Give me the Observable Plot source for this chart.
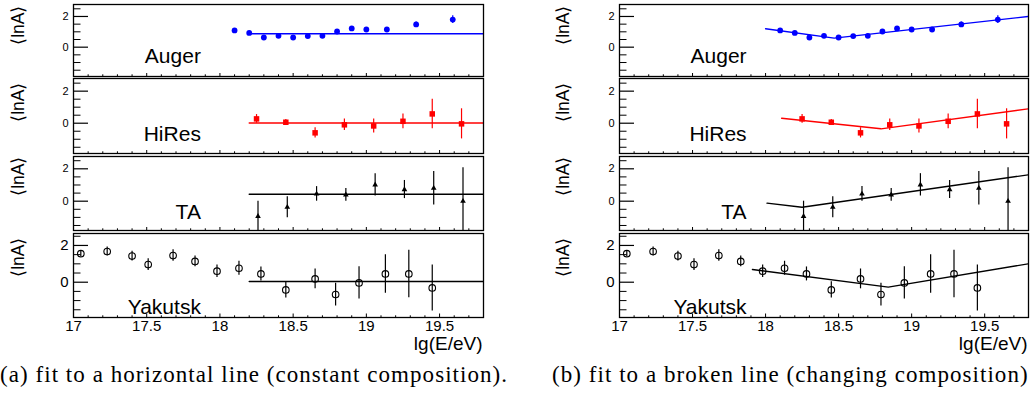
<!DOCTYPE html>
<html><head><meta charset="utf-8">
<script src="https://cdn.jsdelivr.net/npm/d3@7"></script>
<script src="https://cdn.jsdelivr.net/npm/@observablehq/plot@0.6"></script>
<style>
body{margin:0;background:#fff;}
#wrap{position:relative;width:1034px;height:394px;overflow:hidden;background:#fff;}
#wrap svg{position:absolute;overflow:visible;}
.cap{position:absolute;font-family:"Liberation Serif","Times New Roman",serif;font-size:23px;letter-spacing:1.05px;white-space:nowrap;line-height:23px;color:#000;}
</style></head><body>
<div id="wrap"></div>
<script>
// ---------- data ----------
const experiments = ["Auger", "HiRes", "TA", "Yakutsk"];
const colors = ["#0000ff", "#ff0000", "#000000", "#000000"];

const lgE_auger = [18.1, 18.2, 18.3, 18.4, 18.5, 18.6, 18.7, 18.8, 18.9, 19.0, 19.14, 19.34, 19.59];
const lnA_auger = [1.09, 0.93, 0.63, 0.74, 0.63, 0.72, 0.74, 1.02, 1.22, 1.15, 1.15, 1.48, 1.80];
const err_auger = [0.06, 0.06, 0.06, 0.06, 0.06, 0.07, 0.07, 0.08, 0.09, 0.09, 0.10, 0.16, 0.25];

const lgE_hires = [18.25, 18.45, 18.65, 18.85, 19.05, 19.25, 19.45, 19.65];
const lnA_hires = [0.27, 0.06, -0.60, -0.10, -0.17, 0.12, 0.58, -0.04];
const err_hires = [0.27, 0.17, 0.32, 0.36, 0.44, 0.46, 0.92, 0.94];

const lgE_ta = [18.26, 18.46, 18.66, 18.86, 19.06, 19.26, 19.46, 19.66];
const lnA_ta = [-0.93, -0.37, 0.45, 0.39, 1.01, 0.72, 0.80, 0.0];
const err_ta = [0.93, 0.65, 0.45, 0.40, 0.69, 0.56, 1.04, 2.06];

const lgE_yakutsk = [17.05, 17.23, 17.40, 17.51, 17.68, 17.83, 17.98, 18.13, 18.28, 18.45, 18.65, 18.79, 18.95, 19.13, 19.29, 19.45];
const lnA_yakutsk = [1.55, 1.67, 1.42, 0.96, 1.45, 1.13, 0.60, 0.76, 0.45, -0.42, 0.18, -0.67, -0.04, 0.45, 0.45, -0.31];
const err_yakutsk = [0.18, 0.25, 0.27, 0.32, 0.31, 0.29, 0.34, 0.38, 0.38, 0.44, 0.54, 0.62, 0.88, 1.05, 1.29, 1.25];

// (a) constant fit: level per experiment, drawn over this lgE range
const constFitRange = [18.2, 19.8];
const constFitLevels = [0.87, 0.01, 0.43, 0.04];

// (b) broken-line fit: start, break, end
const brokenX_auger = [18.0, 18.47, 19.8],   brokenY_auger = [1.2, 0.59, 2.0];
const brokenX_hires = [18.11, 18.79, 19.8],  brokenY_hires = [0.31, -0.35, 0.9];
const brokenX_ta = [18.01, 18.25, 19.8],     brokenY_ta = [-0.12, -0.37, 1.63];
const brokenX_yakutsk = [17.91, 18.84, 19.8], brokenY_yakutsk = [0.69, -0.27, 1.0];

const xMajorTicks = [17, 17.5, 18, 18.5, 19, 19.5];
const xTickLabels = ["17", "17.5", "18", "18.5", "19", "19.5"];
const yTickLabels = [0, 2];
const captions = ["(a) fit to a horizontal line (constant composition).", "(b) fit to a broken line (changing composition)"];

// ---------- build ----------
const series = [
  {x: lgE_auger, y: lnA_auger, e: err_auger, sym: "circle", r: 2.9},
  {x: lgE_hires, y: lnA_hires, e: err_hires, sym: "square", r: 3.1},
  {x: lgE_ta, y: lnA_ta, e: err_ta, sym: "triangle", r: 2.1},
  {x: lgE_yakutsk, y: lnA_yakutsk, e: err_yakutsk, sym: "circle", r: 3.3, open: true}
];
const broken = [
  [brokenX_auger, brokenY_auger], [brokenX_hires, brokenY_hires],
  [brokenX_ta, brokenY_ta], [brokenX_yakutsk, brokenY_yakutsk]
];

// layout (pixels)
const rows = [
  {top: 4, bot: 76, dom: [-1.91, 2.78], labY: -1.05, ylDy: 1},
  {top: 78, bot: 153, dom: [-1.89, 2.79], labY: -1.12, ylDy: 4},
  {top: 156, bot: 230, dom: [-1.81, 2.76], labY: -1.09, ylDy: 0},
  {top: 233, bot: 317, dom: [-1.92, 2.65], labY: -1.73, ylDy: 4}
];
const cols = [
  {offset: 0, left: 73, right: 483, ylabX: 18},
  {offset: 517, left: 619, right: 1028, ylabX: 563}
];

const xMinor = d3.range(171, 198).map(v => v / 10).filter(v => !xMajorTicks.some(m => Math.abs(m - v) < 1e-9));
const yMinor = [-1.5, -1, -0.5, 0.5, 1, 1.5, 2.5];

const wrap = document.getElementById("wrap");

cols.forEach((col, ci) => {
  rows.forEach((row, ri) => {
    const s = series[ri];
    const color = colors[ri];
    const isBottom = ri === 3;
    const H = row.bot - row.top;
    const FW = col.right - col.left;
    const W = 517;
    const mT = 1, mB = isBottom ? 40 : 1;
    const data = s.x.map((x, i) => ({x, y: s.y[i], e: s.e[i]}));
    const fit = ci === 0
      ? constFitRange.map(x => ({x, y: constFitLevels[ri]}))
      : broken[ri][0].map((x, i) => ({x, y: broken[ri][1][i]}));
    const fs = isBottom ? 15 : 11;
    const marks = [
      Plot.ruleX(data, {x: "x", y1: d => d.y - d.e, y2: d => d.y + d.e, stroke: color, strokeWidth: 1.2, clip: true}),
      Plot.line(fit, {x: "x", y: "y", stroke: color, strokeWidth: 1.4, clip: true}),
      Plot.dot(data, {x: "x", y: "y", symbol: s.sym, r: s.r,
        fill: s.open ? "none" : color, stroke: color, strokeWidth: s.open ? 1.1 : 0}),
      Plot.tickY(yTickLabels, {y: d => d, insetRight: FW - 15, stroke: "black", strokeWidth: 1.2}),
      Plot.tickY(yMinor, {y: d => d, insetRight: FW - 7.5, stroke: "black", strokeWidth: 1}),
      Plot.tickX(xMajorTicks, {x: d => d, insetTop: H - (isBottom ? 3.5 : 3), stroke: "black"}),
      Plot.tickX(xMinor, {x: d => d, insetTop: H - 1.7, stroke: "black"}),
      Plot.frame({stroke: "black", strokeWidth: 1.3}),
      Plot.axisY(yTickLabels, {tickSize: 0, tickPadding: 5, fontSize: fs, label: null}),
      Plot.text(["\u27E8lnA\u27E9"], {frameAnchor: "top-left", dx: col.ylabX - col.left, dy: row.ylDy,
        rotate: -90, textAnchor: "end", lineAnchor: "middle", fontSize: 17.5}),
      Plot.text([experiments[ri]], {x: () => 17.87, y: () => row.labY, textAnchor: "end", lineAnchor: "bottom", fontSize: 21})
    ];
    if (isBottom) {
      marks.push(Plot.axisX(xMajorTicks, {tickSize: 0, tickPadding: 3, fontSize: 15,
        tickFormat: (d, i) => xTickLabels[i], label: null}));
      marks.push(Plot.text(["lg(E/eV)"], {frameAnchor: "bottom-right", dx: -1, dy: 26,
        textAnchor: "end", lineAnchor: "middle", fontSize: 19}));
    }
    const svg = Plot.plot({
      width: W, height: H + mT + mB,
      marginLeft: col.left - col.offset, marginRight: col.offset + W - col.right,
      marginTop: mT, marginBottom: mB,
      x: {domain: [17, 19.8], axis: null},
      y: {domain: row.dom, axis: null},
      style: {fontFamily: "'Liberation Sans', Arial, Helvetica, sans-serif", background: "transparent", color: "black", overflow: "visible"},
      marks
    });
    svg.style.left = col.offset + "px";
    svg.style.top = (row.top - mT) + "px";
    wrap.appendChild(svg);
  });
});

captions.forEach((c, i) => {
  const d = document.createElement("div");
  d.className = "cap";
  d.textContent = c;
  d.style.left = (i === 0 ? 0 : 552) + "px";
  d.style.top = "363px";
  wrap.appendChild(d);
});
</script>
</body></html>
